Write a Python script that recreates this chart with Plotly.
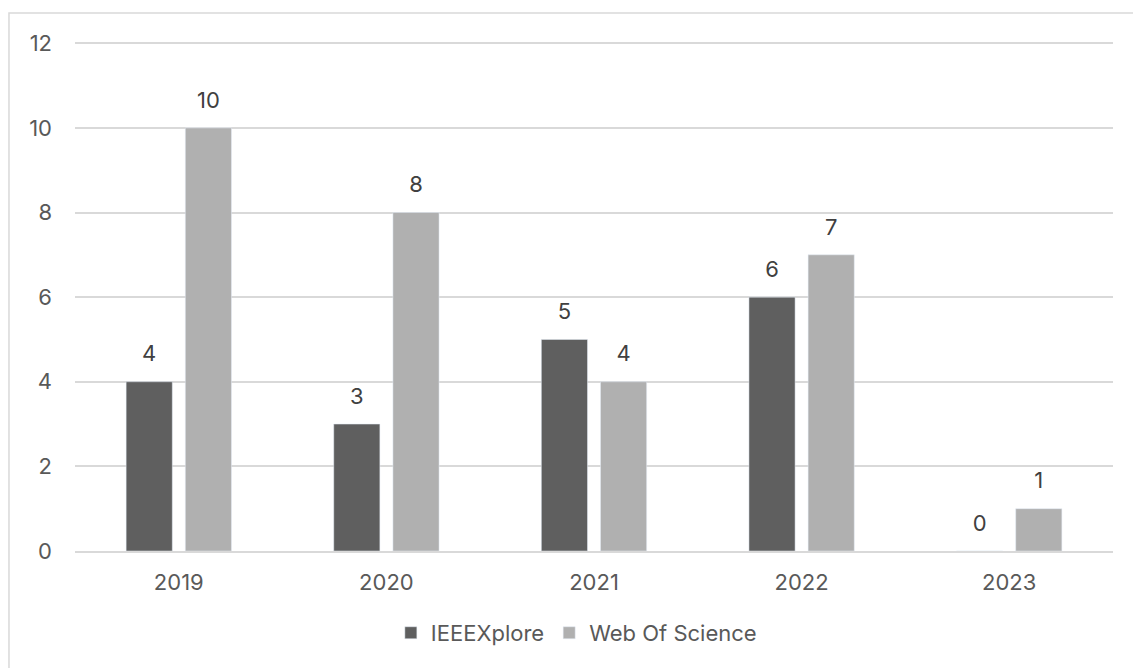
import plotly.graph_objects as go

years = ["2019", "2020", "2021", "2022", "2023"]
ieee = [4, 3, 5, 6, 0]
wos = [10, 8, 4, 7, 1]
y_ticks = [0, 2, 4, 6, 8, 10, 12]

font_family = "Inter, Noto Sans, sans-serif"
text_color = "#595959"
label_tpl = "<span style='font-size:22px'>%{y}</span><br> "

fig = go.Figure()
fig.add_trace(go.Bar(x=years, y=ieee, name="IEEEXplore", marker_color="#5f5f5f",
                     texttemplate=label_tpl, textposition="outside", cliponaxis=False,
                     textfont=dict(size=11, color="#404040")))
fig.add_trace(go.Bar(x=years, y=wos, name="Web Of Science", marker_color="#b0b0b0",
                     texttemplate=label_tpl, textposition="outside", cliponaxis=False,
                     textfont=dict(size=11, color="#404040")))

fig.update_layout(
    width=1133, height=668,
    margin=dict(l=75, r=20, t=42, b=117),
    plot_bgcolor="white", paper_bgcolor="white",
    barmode="group", bargap=0.43, bargroupgap=0.22,
    font=dict(family=font_family, size=22, color=text_color),
    showlegend=True,
    legend=dict(orientation="h", x=0.483, xanchor="center", y=-0.161, yanchor="middle",
                font=dict(size=22, color=text_color), itemwidth=30, traceorder="normal"),
    xaxis=dict(showgrid=False, showline=True, linecolor="#d9d9d9", linewidth=1.5,
               ticks="", tickfont=dict(size=22, color=text_color), ticklabelstandoff=11),
    yaxis=dict(range=[0, 12.03], tickvals=y_ticks, showgrid=True, gridcolor="#d9d9d9",
               gridwidth=1.5, zeroline=False, showline=False, ticks="",
               tickfont=dict(size=22, color=text_color), ticklabelstandoff=22),
    shapes=[dict(type="rect", xref="paper", yref="paper", x0=-0.0636, x1=1.05,
                 y0=-0.30, y1=1.057, line=dict(color="#d9d9d9", width=1.5),
                 fillcolor="rgba(0,0,0,0)", layer="below")],
)

fig.write_html("out.html", config={"displayModeBar": False},
               post_script="document.body.style.margin='0px';")
